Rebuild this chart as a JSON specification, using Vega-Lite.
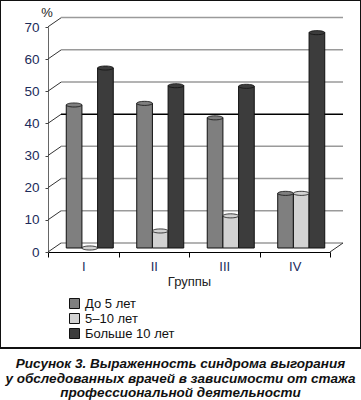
{
  "$schema": "https://vega.github.io/schema/vega-lite/v6.json",
  "width": 361,
  "height": 348,
  "autosize": {"type": "none"},
  "padding": {"left": 0, "top": 0, "right": 0, "bottom": 52},
  "background": "white",
  "config": {
    "view": {"stroke": "#111111", "strokeWidth": 2},
    "font": "Liberation Sans"
  },
  "title": {
    "text": ["Рисунок 3. Выраженность синдрома выгорания", "у обследованных врачей в зависимости от стажа", "профессиональной деятельности"],
    "orient": "bottom",
    "anchor": "middle",
    "font": "Liberation Sans",
    "fontSize": 13.5,
    "fontWeight": "bold",
    "fontStyle": "italic",
    "lineHeight": 14.5,
    "offset": 9,
    "color": "#111111"
  },
  "datasets": {
    "bars": [
      {"group": "I", "series": "До 5 лет", "value": 44.5},
      {"group": "I", "series": "5–10 лет", "value": 0},
      {"group": "I", "series": "Больше 10 лет", "value": 56},
      {"group": "II", "series": "До 5 лет", "value": 45},
      {"group": "II", "series": "5–10 лет", "value": 5.3},
      {"group": "II", "series": "Больше 10 лет", "value": 50.5},
      {"group": "III", "series": "До 5 лет", "value": 40.5},
      {"group": "III", "series": "5–10 лет", "value": 10},
      {"group": "III", "series": "Больше 10 лет", "value": 50.3},
      {"group": "IV", "series": "До 5 лет", "value": 17},
      {"group": "IV", "series": "5–10 лет", "value": 17},
      {"group": "IV", "series": "Больше 10 лет", "value": 67}
    ],
    "grid": [{"g": 0}, {"g": 10}, {"g": 20}, {"g": 30}, {"g": 40}, {"g": 50}, {"g": 60}, {"g": 70}],
    "corner": [{"g": 0}]
  },
  "layer": [
    {
      "data": {"name": "grid"},
      "mark": {"type": "rule", "strokeWidth": 1.5},
      "encoding": {
        "y": {"field": "g", "type": "quantitative", "axis": null, "scale": {"domain": [0, 70], "range": [243, 17.5], "nice": false, "zero": false}},
        "x": {"datum": 0, "type": "quantitative", "axis": null, "scale": {"domain": [0, 1], "range": [61, 343], "nice": false, "zero": false}},
        "x2": {"datum": 1},
        "color": {"condition": {"test": "datum.g === 40", "value": "#000000"}, "value": "#9a9a9a"}
      }
    },
    {
      "data": {"name": "grid"},
      "mark": {"type": "point", "shape": "M-1,0.69L1,-0.69", "size": 169, "filled": false, "stroke": "#333333", "strokeWidth": 1, "opacity": 1},
      "encoding": {
        "y": {"field": "g", "type": "quantitative", "axis": null, "scale": {"domain": [0, 70], "range": [247.5, 22.3], "nice": false, "zero": false}},
        "x": {"datum": 0, "type": "quantitative", "axis": null, "scale": {"domain": [0, 1], "range": [54.5, 336.5], "nice": false, "zero": false}}
      }
    },
    {
      "data": {"name": "corner"},
      "mark": {"type": "point", "shape": "M-1,0.69L1,-0.69", "size": 169, "filled": false, "stroke": "#333333", "strokeWidth": 1, "opacity": 1},
      "encoding": {
        "y": {"field": "g", "type": "quantitative", "axis": null, "scale": {"domain": [0, 70], "range": [247.5, 22.3], "nice": false, "zero": false}},
        "x": {"datum": 1, "type": "quantitative", "axis": null, "scale": {"domain": [0, 1], "range": [54.5, 336.5], "nice": false, "zero": false}}
      }
    },
    {
      "data": {"name": "bars"},
      "mark": {"type": "point", "opacity": 0},
      "encoding": {
        "x": {
          "field": "group", "type": "nominal", "sort": ["I", "II", "III", "IV"],
          "scale": {"type": "band", "range": [48, 330], "paddingInner": 0, "paddingOuter": 0},
          "axis": {
            "orient": "bottom", "offset": -96, "title": "Группы", "labelAngle": 0,
            "tickBand": "extent", "domainColor": "#000000", "domainWidth": 1,
            "tickColor": "#000000", "tickSize": 5, "tickWidth": 1,
            "labelFont": "Liberation Sans", "labelFontSize": 13, "labelColor": "#1c2b5a", "labelPadding": 3,
            "titleFont": "Liberation Sans", "titleFontSize": 13, "titleFontWeight": "normal", "titleColor": "#222222", "titlePadding": 2,
            "grid": false
          }
        },
        "y": {
          "field": "value", "type": "quantitative",
          "scale": {"domain": [0, 70], "range": [252, 27], "nice": false, "zero": false},
          "axis": {
            "orient": "left", "offset": -48, "values": [0, 10, 20, 30, 40, 50, 60, 70],
            "title": "%", "titleAngle": 0, "titleX": -1.5, "titleY": 12.5, "titleAlign": "center", "titleBaseline": "middle",
            "titleFont": "Liberation Sans", "titleFontSize": 13, "titleFontWeight": "normal", "titleColor": "#222222",
            "domainColor": "#666666", "domainWidth": 1, "tickColor": "#444444", "tickSize": 3, "tickWidth": 1,
            "labelFont": "Liberation Sans", "labelFontSize": 13.5, "labelColor": "#1c2b5a", "labelPadding": 6,
            "grid": false
          }
        }
      }
    },
    {
      "data": {"name": "bars"},
      "mark": {"type": "bar", "stroke": "#111111", "strokeWidth": 1},
      "encoding": {
        "x": {
          "field": "group", "type": "nominal", "sort": ["I", "II", "III", "IV"], "axis": null,
          "scale": {"type": "band", "range": [54.5, 336.5], "paddingInner": 0.333, "paddingOuter": 0.1667}
        },
        "xOffset": {"field": "series", "type": "nominal", "sort": ["До 5 лет", "5–10 лет", "Больше 10 лет"], "scale": {"paddingInner": 0, "paddingOuter": 0}},
        "y": {"field": "value", "type": "quantitative", "axis": null, "scale": {"domain": [0, 70], "range": [248, 23], "nice": false, "zero": false}},
        "color": {
          "field": "series", "type": "nominal",
          "scale": {"domain": ["До 5 лет", "5–10 лет", "Больше 10 лет"], "range": ["#7f7f7f", "#d2d2d2", "#3c3c3c"]},
          "legend": {
            "title": null, "orient": "none", "legendX": 68, "legendY": 297,
            "symbolType": "square", "symbolSize": 100, "symbolStrokeColor": "#111111", "symbolStrokeWidth": 1,
            "labelFont": "Liberation Sans", "labelFontSize": 13, "labelColor": "#111111", "labelOffset": 4,
            "rowPadding": 0
          }
        }
      }
    },
    {
      "data": {"name": "bars"},
      "mark": {"type": "point", "shape": "M-1,0A1,0.26,0,1,0,1,0A1,0.26,0,1,0,-1,0Z", "size": 245, "filled": true, "stroke": "#111111", "strokeWidth": 0.8, "opacity": 1},
      "encoding": {
        "x": {
          "field": "group", "type": "nominal", "sort": ["I", "II", "III", "IV"], "axis": null,
          "scale": {"type": "band", "range": [54.5, 336.5], "paddingInner": 0.333, "paddingOuter": 0.1667}
        },
        "xOffset": {"field": "series", "type": "nominal", "sort": ["До 5 лет", "5–10 лет", "Больше 10 лет"], "scale": {"paddingInner": 0, "paddingOuter": 0}},
        "y": {"field": "value", "type": "quantitative", "axis": null, "scale": {"domain": [0, 70], "range": [248, 23], "nice": false, "zero": false}},
        "color": {"field": "series", "type": "nominal", "legend": null}
      }
    }
  ],
  "resolve": {"scale": {"x": "independent", "y": "independent"}}
}
